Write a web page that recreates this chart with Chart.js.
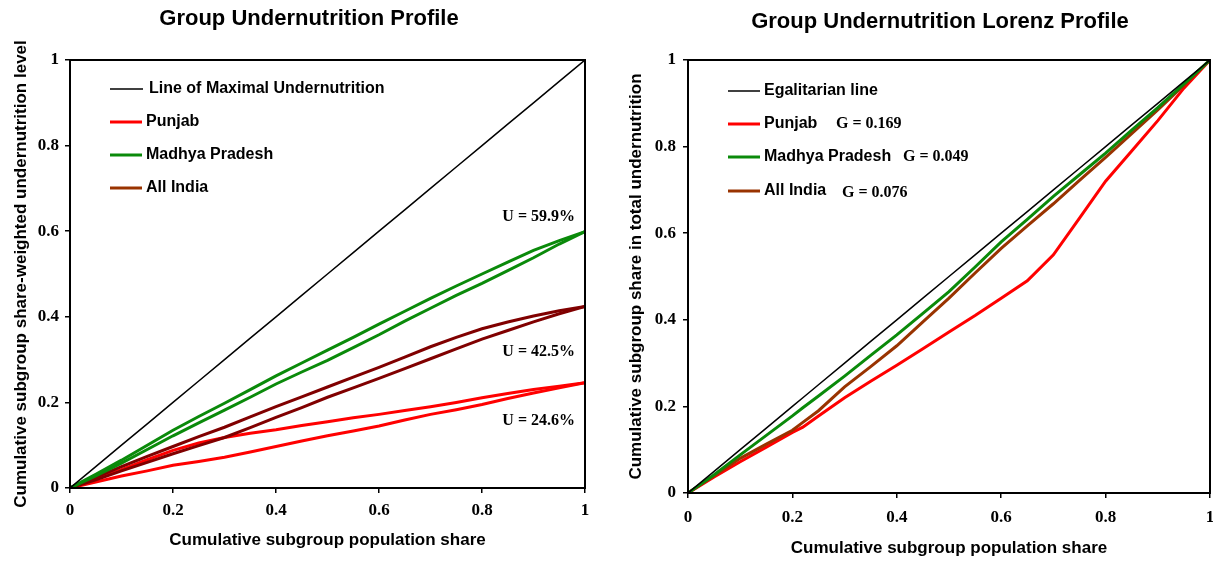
<!DOCTYPE html>
<html>
<head>
<meta charset="utf-8">
<script src="https://cdn.jsdelivr.net/npm/chart.js@4.4.0/dist/chart.umd.min.js"></script>
<style>
  body { margin: 0; background: #fff; }
  .box { position: absolute; top: 0; height: 561px; }
  #left { left: 0; width: 605px; }
  #right { left: 605px; width: 608px; }
</style>
</head>
<body>
<div class="box" id="left"><canvas id="profileChart"></canvas></div>
<div class="box" id="right"><canvas id="lorenzChart"></canvas></div>
<script>
// ---- data: left chart (group undernutrition profile) ----
var profileShare = [0, 0.05, 0.1, 0.15, 0.2, 0.25, 0.3, 0.35, 0.4, 0.45, 0.5, 0.55, 0.6, 0.65, 0.7, 0.75, 0.8, 0.85, 0.9, 0.95, 1];
var maximalLine  = [0, 0.05, 0.1, 0.15, 0.2, 0.25, 0.3, 0.35, 0.4, 0.45, 0.5, 0.55, 0.6, 0.65, 0.7, 0.75, 0.8, 0.85, 0.9, 0.95, 1];
var punjabProfileA = [0, 0.022, 0.043, 0.066, 0.088, 0.105, 0.118, 0.128, 0.136, 0.146, 0.155, 0.164, 0.172, 0.181, 0.19, 0.2, 0.211, 0.221, 0.23, 0.238, 0.246];
var punjabProfileB = [0, 0.014, 0.028, 0.04, 0.053, 0.062, 0.072, 0.084, 0.097, 0.11, 0.122, 0.133, 0.145, 0.159, 0.172, 0.183, 0.195, 0.209, 0.222, 0.234, 0.246];
var mpProfileA = [0, 0.032, 0.065, 0.1, 0.135, 0.167, 0.198, 0.23, 0.262, 0.292, 0.322, 0.352, 0.383, 0.413, 0.443, 0.472, 0.5, 0.528, 0.555, 0.578, 0.599];
var mpProfileB = [0, 0.028, 0.058, 0.09, 0.122, 0.152, 0.182, 0.212, 0.243, 0.271, 0.298, 0.328, 0.358, 0.39, 0.42, 0.45, 0.478, 0.508, 0.538, 0.57, 0.599];
var indiaProfileA = [0, 0.025, 0.05, 0.074, 0.097, 0.12, 0.142, 0.166, 0.19, 0.213, 0.236, 0.259, 0.282, 0.306, 0.33, 0.352, 0.372, 0.388, 0.402, 0.414, 0.424];
var indiaProfileB = [0, 0.019, 0.04, 0.06, 0.08, 0.099, 0.118, 0.141, 0.165, 0.188, 0.212, 0.234, 0.256, 0.279, 0.302, 0.325, 0.348, 0.368, 0.388, 0.407, 0.424];
var profileNotes = ['U = 59.9%', 'U = 42.5%', 'U = 24.6%'];

// ---- data: right chart (Lorenz profile) ----
var lorenzShare = [0, 0.05, 0.1, 0.15, 0.2, 0.22, 0.25, 0.3, 0.35, 0.4, 0.45, 0.5, 0.55, 0.6, 0.65, 0.7, 0.75, 0.8, 0.85, 0.9, 0.95, 1];
var egalitarian = [0, 0.05, 0.1, 0.15, 0.2, 0.22, 0.25, 0.3, 0.35, 0.4, 0.45, 0.5, 0.55, 0.6, 0.65, 0.7, 0.75, 0.8, 0.85, 0.9, 0.95, 1];
var punjabLorenz = [0, 0.037, 0.072, 0.106, 0.14, 0.152, 0.178, 0.22, 0.258, 0.295, 0.333, 0.372, 0.41, 0.45, 0.49, 0.55, 0.635, 0.72, 0.79, 0.86, 0.935, 1];
var mpLorenz = [0, 0.042, 0.088, 0.133, 0.178, 0.197, 0.224, 0.27, 0.318, 0.365, 0.415, 0.465, 0.522, 0.58, 0.632, 0.685, 0.735, 0.785, 0.838, 0.89, 0.945, 1];
var indiaLorenz = [0, 0.04, 0.08, 0.113, 0.145, 0.163, 0.19, 0.245, 0.292, 0.34, 0.395, 0.45, 0.508, 0.565, 0.617, 0.668, 0.722, 0.775, 0.83, 0.885, 0.942, 1];
var giniLabels = ['', 'G = 0.169', 'G = 0.049', 'G = 0.076'];

var tickValues = [0, 0.2, 0.4, 0.6, 0.8, 1];

var RED = '#ff0000', GREEN = '#0a8a0a', MAROON = '#800000', BROWN = '#993300';
var SANS = "'Liberation Sans', Arial, sans-serif";
var SERIF = "'Liberation Serif', 'Times New Roman', serif";

function pts(xs, ys) {
    return xs.map(function (x, i) { return { x: x, y: ys[i] }; });
}

function line(label, xs, ys, color, width) {
    return {
        label: label,
        data: pts(xs, ys),
        borderColor: color,
        borderWidth: width,
        pointRadius: 0,
        tension: 0,
        fill: false
    };
}

//Plugin that draws the frame, the title, the legend and the text notes
var overlay = {
    id: 'overlay',
    afterDraw: function (chart) {
        var o = chart.options.plugins.overlay;
        var ctx = chart.ctx, a = chart.chartArea;
        ctx.save();
        ctx.strokeStyle = '#000';
        ctx.lineWidth = 2;
        ctx.strokeRect(a.left, a.top, a.right - a.left, a.bottom - a.top);

        ctx.fillStyle = '#000';
        ctx.textBaseline = 'middle';
        ctx.textAlign = 'center';
        ctx.font = 'bold 22px ' + SANS;
        ctx.fillText(o.title, o.titleX, o.titleY);

        ctx.textAlign = 'left';
        o.legend.forEach(function (it, i) {
            var y = o.legendY[i];
            ctx.strokeStyle = it.color;
            ctx.lineWidth = it.width;
            ctx.beginPath();
            ctx.moveTo(a.left + it.from, y);
            ctx.lineTo(a.left + it.to, y);
            ctx.stroke();
            ctx.font = 'bold 16px ' + SANS;
            ctx.fillText(it.label, a.left + it.textX, y);
            if (it.extra) {
                ctx.font = 'bold 16px ' + SERIF;
                ctx.fillText(it.extra, a.left + it.extraX, y + (it.extraDy || 0));
            }
        });

        ctx.textAlign = 'right';
        ctx.font = 'bold 16px ' + SERIF;
        (o.notes || []).forEach(function (n) {
            ctx.fillText(n.text, a.right - 10, n.y);
        });
        ctx.restore();
    }
};

function axis(title, isX, tickPad, titlePad, size) {
    return {
        type: 'linear',
        min: 0,
        max: 1,
        afterBuildTicks: function (s) { s.ticks = tickValues.map(function (v) { return { value: v }; }); },
        afterFit: function (s) {
            if (isX) { s.height = size; s.paddingLeft = 0; s.paddingRight = 0; }
            else { s.width = size; s.paddingTop = 0; s.paddingBottom = 0; }
        },
        ticks: {
            color: '#000',
            padding: tickPad,
            font: { family: SERIF, weight: 'bold', size: 17 },
            callback: function (v) { return String(+v.toFixed(1)); }
        },
        grid: { display: true, drawOnChartArea: false, drawTicks: true, tickLength: 5, color: '#000', lineWidth: 1.5 },
        border: { display: true, color: '#000', width: 2 },
        title: {
            display: true,
            text: title,
            color: '#000',
            padding: titlePad,
            font: { family: SANS, weight: 'bold', size: 17 }
        }
    };
}

// Left chart: group undernutrition profile
var ctxLeft = document.getElementById('profileChart').getContext('2d');
var profileChart = new Chart(ctxLeft, {
    type: 'line',
    data: {
        datasets: [
            line('Line of Maximal Undernutrition', profileShare, maximalLine, '#000', 1.5),
            line('Madhya Pradesh A', profileShare, mpProfileA, GREEN, 3),
            line('Madhya Pradesh B', profileShare, mpProfileB, GREEN, 3),
            line('All India A', profileShare, indiaProfileA, MAROON, 3),
            line('All India B', profileShare, indiaProfileB, MAROON, 3),
            line('Punjab A', profileShare, punjabProfileA, RED, 3),
            line('Punjab B', profileShare, punjabProfileB, RED, 3)
        ]
    },
    options: {
        responsive: true,
        maintainAspectRatio: false,
        animation: false,
        layout: { padding: { top: 60, right: 20, left: 0, bottom: 0 } },
        scales: {
            x: axis('Cumulative subgroup population share', true, 7, { top: 10, bottom: 10 }, 73),
            y: axis('Cumulative subgroup share-weighted undernutrition level', false, 6, { top: 11, bottom: 11 }, 70)
        },
        plugins: {
            legend: { display: false },
            tooltip: { enabled: false },
            overlay: {
                title: 'Group Undernutrition Profile',
                titleX: 309, titleY: 19,
                legendY: [89, 122, 155, 188],
                legend: [
                    { label: 'Line of Maximal Undernutrition', color: '#000', width: 1.5, from: 40, to: 73, textX: 79 },
                    { label: 'Punjab', color: RED, width: 3, from: 40, to: 72, textX: 76 },
                    { label: 'Madhya Pradesh', color: GREEN, width: 3, from: 40, to: 72, textX: 76 },
                    { label: 'All India', color: BROWN, width: 3, from: 40, to: 72, textX: 76 }
                ],
                notes: [
                    { text: profileNotes[0], y: 217 },
                    { text: profileNotes[1], y: 352 },
                    { text: profileNotes[2], y: 421 }
                ]
            }
        }
    },
    plugins: [overlay]
});

// Right chart: group undernutrition Lorenz profile
var ctxRight = document.getElementById('lorenzChart').getContext('2d');
var lorenzChart = new Chart(ctxRight, {
    type: 'line',
    data: {
        datasets: [
            line('Egalitarian line', lorenzShare, egalitarian, '#000', 1.5),
            line('Madhya Pradesh', lorenzShare, mpLorenz, GREEN, 3),
            line('All India', lorenzShare, indiaLorenz, BROWN, 3),
            line('Punjab', lorenzShare, punjabLorenz, RED, 3)
        ]
    },
    options: {
        responsive: true,
        maintainAspectRatio: false,
        animation: false,
        layout: { padding: { top: 60, right: 3, left: 0, bottom: 0 } },
        scales: {
            x: axis('Cumulative subgroup population share', true, 9, { top: 2, bottom: 2 }, 68),
            y: axis('Cumulative subgroup share in total undernutrition', false, 7, { top: 21, bottom: 21 }, 83)
        },
        plugins: {
            legend: { display: false },
            tooltip: { enabled: false },
            overlay: {
                title: 'Group Undernutrition Lorenz Profile',
                titleX: 335, titleY: 22,
                legendY: [91, 124, 157, 191],
                legend: [
                    { label: 'Egalitarian line', color: '#000', width: 1.5, from: 40, to: 72, textX: 76 },
                    { label: 'Punjab', color: RED, width: 3, from: 40, to: 72, textX: 76, extra: giniLabels[1], extraX: 148 },
                    { label: 'Madhya Pradesh', color: GREEN, width: 3, from: 40, to: 72, textX: 76, extra: giniLabels[2], extraX: 215 },
                    { label: 'All India', color: BROWN, width: 3, from: 40, to: 72, textX: 76, extra: giniLabels[3], extraX: 154, extraDy: 2 }
                ]
            }
        }
    },
    plugins: [overlay]
});
</script>
</body>
</html>
